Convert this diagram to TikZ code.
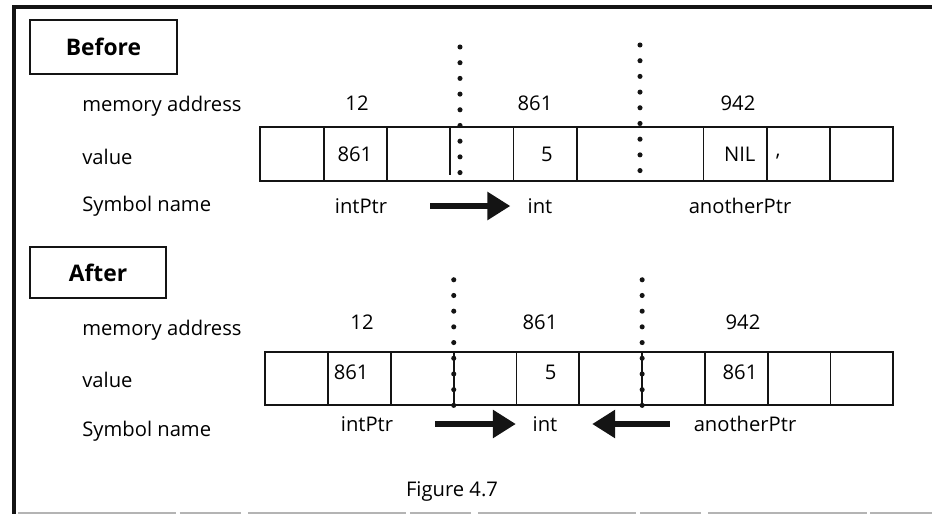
\documentclass[tikz,border=0pt]{standalone}
\usepackage{fontspec}
\setmainfont{Open Sans}
\usepackage{tikz}
\usetikzlibrary{
  arrows.meta,
  positioning
}
\definecolor{ink}{HTML}{141414}
\definecolor{scan}{HTML}{B4B4B4}
\newcommand{\lblfont}{\fontsize{11.5}{13}\selectfont}
\newcommand{\tagfont}{\fontsize{13}{15}\selectfont\bfseries}
\tikzset{
  frame/.style={
    draw=ink,
    line width=2.3pt
  },
  scanline/.style={
    draw=scan,
    line width=0.9pt,
    dash pattern=on 90pt off 2pt on 35pt off 4pt
  },
  tag/.style={
    draw=ink,
    line width=1.1pt,
    inner sep=0pt,
    font=\tagfont
  },
  rowlabel/.style={
    anchor=west,
    inner sep=0pt,
    font=\lblfont
  },
  lbl/.style={
    inner sep=0pt,
    font=\lblfont
  },
  cell/.style={
    minimum height=1.08cm,
    inner sep=0pt
  },
  strip/.style={
    draw=ink,
    line width=1pt
  },
  dots/.style={
    draw=ink,
    line width=2.9pt,
    line cap=round,
    dash pattern=on 0pt off 0.314cm
  },
  pointer/.style={
    -{Triangle[length=0.46cm, width=0.54cm]},
    line width=3.3pt,
    draw=ink
  }
}

\begin{document}
\begin{tikzpicture}[x=0.02cm, y=-0.02cm]
  \useasboundingbox (0,0) rectangle (932,514);
  \draw[frame] (932,7) -- (14,7) -- (14,514);
  \draw[scanline] (18,513) -- (932,513);

  % before
  \node[tag, minimum width=2.94cm, minimum height=1.08cm] (before) at (103.5,47) {Before};
  \node[rowlabel] (bmem) at (82,106) {memory address};
  \node[rowlabel] (bval) at (82,157) {value};
  \node[rowlabel] (bsym) at (82,206) {Symbol name};

  \foreach \i in {1,...,10}
    \node[cell, minimum width=1.266cm] (b\i) at ({260+63.3*(\i-0.5)},154) {};
  \draw[strip] (b1.north west) rectangle (b10.south east);
  \foreach \i in {1,2,4,5,7,8,9}
    \draw[strip] (b\i.north east) -- (b\i.south east);
  \draw[strip] (b3.north east) -- ++(0,48);
  \draw[dots] (460,47) -- (460,173);
  \draw[dots] (640,45) -- (640,172);

  \node[lbl] (badr1) at (357,103) {12};
  \node[lbl] (badr2) at (535,103) {861};
  \node[lbl] (badr3) at (738,103) {942};

  \node[lbl] (bv2) at (b2) {861};
  \node[lbl, xshift=0.04cm] (bv5) at (b5) {5};
  \node[lbl, xshift=0.1cm] (bv8) at (b8) {NIL};
  \node[lbl] (bv9) at (778,157) {,};

  \node[lbl] (bname1) at (361,206) {intPtr};
  \node[lbl] (bname2) at (540,206) {int};
  \node[lbl] (bname3) at (740,206) {anotherPtr};
  \draw[pointer, shorten <=0.86cm, shorten >=0.34cm] (bname1) -- (bname2);

  % after
  \node[tag, minimum width=2.72cm, minimum height=1.02cm] (after) at (98,272.5) {After};
  \node[rowlabel] (amem) at (82,330) {memory address};
  \node[rowlabel] (aval) at (82,380) {value};
  \node[rowlabel] (asym) at (82,431) {Symbol name};

  \foreach \i in {1,...,10}
    \node[cell, minimum width=1.256cm, minimum height=1.06cm] (a\i) at ({265+62.8*(\i-0.5)},378.5) {};
  \draw[strip] (a1.north west) rectangle (a10.south east);
  \foreach \i in {1,...,9}
    \draw[strip] (a\i.north east) -- (a\i.south east);
  \draw[dots] (a3.south east) -- +(0,-130);
  \draw[dots] (a6.south east) -- +(0,-132);

  \node[lbl] (aadr1) at (362,322) {12};
  \node[lbl] (aadr2) at (540,322) {861};
  \node[lbl] (aadr3) at (743,322) {942};

  \node[lbl, xshift=-0.16cm, yshift=0.12cm] (av2) at (a2) {861};
  \node[lbl, xshift=0.06cm, yshift=0.12cm] (av5) at (a5) {5};
  \node[lbl, xshift=0.08cm, yshift=0.12cm] (av8) at (a8) {861};

  \node[lbl] (aname1) at (367,424) {intPtr};
  \node[lbl] (aname2) at (545,424) {int};
  \node[lbl] (aname3) at (745,424) {anotherPtr};
  \draw[pointer, shorten <=0.84cm, shorten >=0.33cm] (aname1) -- (aname2);
  \draw[pointer, shorten <=0.47cm, shorten >=0.69cm] (aname3) -- (aname2);

  \node[lbl] (caption) at (452,492) {Figure 4.7};
\end{tikzpicture}
\end{document}
